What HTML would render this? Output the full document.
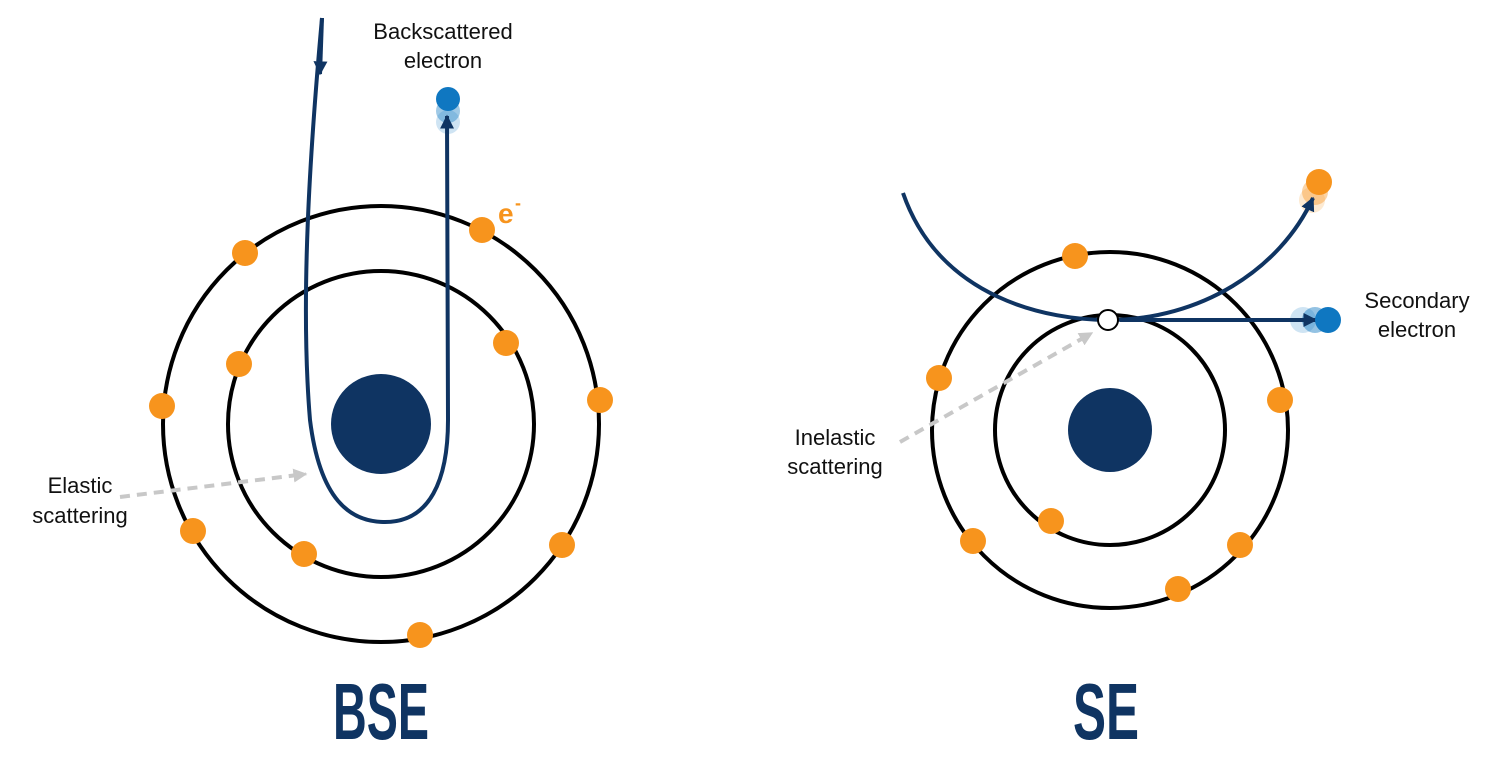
<!DOCTYPE html>
<html><head><meta charset="utf-8"><style>
html,body{margin:0;padding:0;background:#fff;width:1500px;height:766px;overflow:hidden}
text{font-family:"Liberation Sans",sans-serif}
</style></head><body>
<svg width="1500" height="766" viewBox="0 0 1500 766" xmlns="http://www.w3.org/2000/svg">
<defs>
<marker id="ah" viewBox="0 0 10 10" refX="9" refY="5" markerWidth="3.5" markerHeight="3.5" orient="auto" markerUnits="strokeWidth"><path d="M0,0 L10,5 L0,10 z" fill="#0f3462"/></marker>
<marker id="gh" viewBox="0 0 10 10" refX="9" refY="5" markerWidth="3.5" markerHeight="3.5" orient="auto" markerUnits="strokeWidth"><path d="M0,0 L10,5 L0,10 z" fill="#c8c8c8"/></marker>
</defs>
<g fill="none" stroke="#000" stroke-width="4">
<circle cx="381" cy="424" r="218"/>
<circle cx="381" cy="424" r="153"/>
<circle cx="1110" cy="430" r="178"/>
<circle cx="1110" cy="430" r="115"/>
</g>
<circle cx="381" cy="424" r="50" fill="#0f3462"/>
<circle cx="1110" cy="430" r="42" fill="#0f3462"/>
<circle cx="448" cy="122" r="12" fill="#0f77c1" opacity="0.2"/>
<circle cx="448" cy="111" r="12" fill="#0f77c1" opacity="0.4"/>
<circle cx="448" cy="99" r="12" fill="#0f77c1"/>
<path d="M322,18 C310,150 300,300 310,420 C320,500 350,522 385,522 C430,522 448,480 448,420 L447,116" fill="none" stroke="#0f3462" stroke-width="4" marker-end="url(#ah)"/>
<path d="M322,18 L320,74" fill="none" stroke="#0f3462" stroke-width="4" marker-end="url(#ah)"/>
<circle cx="1303" cy="320" r="13" fill="#0f77c1" opacity="0.2"/>
<circle cx="1315" cy="320" r="13" fill="#0f77c1" opacity="0.45"/>
<circle cx="1312" cy="200" r="13" fill="#f7941d" opacity="0.2"/>
<circle cx="1315" cy="192" r="13" fill="#f7941d" opacity="0.4"/>
<circle cx="1319" cy="182" r="13" fill="#f7941d"/>
<path d="M903,193 C940,300 1050,320 1108,320 C1200,320 1280,270 1313,198" fill="none" stroke="#0f3462" stroke-width="4" marker-end="url(#ah)"/>
<path d="M1120,320 L1316,320" fill="none" stroke="#0f3462" stroke-width="4" marker-end="url(#ah)"/>
<circle cx="1328" cy="320" r="13" fill="#0f77c1"/>
<circle cx="1108" cy="320" r="10" fill="#fff" stroke="#000" stroke-width="2"/>
<g fill="#f7941d">
<circle cx="245" cy="253" r="13"/><circle cx="482" cy="230" r="13"/><circle cx="162" cy="406" r="13"/>
<circle cx="600" cy="400" r="13"/><circle cx="193" cy="531" r="13"/><circle cx="562" cy="545" r="13"/>
<circle cx="420" cy="635" r="13"/><circle cx="239" cy="364" r="13"/><circle cx="506" cy="343" r="13"/>
<circle cx="304" cy="554" r="13"/>
<circle cx="1075" cy="256" r="13"/><circle cx="939" cy="378" r="13"/><circle cx="1280" cy="400" r="13"/>
<circle cx="973" cy="541" r="13"/><circle cx="1240" cy="545" r="13"/><circle cx="1178" cy="589" r="13"/>
<circle cx="1051" cy="521" r="13"/>
</g>
<path d="M120,497 L306,474" stroke="#c8c8c8" stroke-width="4" stroke-dasharray="10,7" fill="none" marker-end="url(#gh)"/>
<path d="M900,442 L1092,333" stroke="#c8c8c8" stroke-width="4" stroke-dasharray="10,7" fill="none" marker-end="url(#gh)"/>
<g font-size="22" fill="#111">
<text x="443" y="39" text-anchor="middle">Backscattered</text>
<text x="443" y="68" text-anchor="middle">electron</text>
<text x="80" y="493" text-anchor="middle">Elastic</text>
<text x="80" y="523" text-anchor="middle">scattering</text>
<text x="835" y="445" text-anchor="middle">Inelastic</text>
<text x="835" y="474" text-anchor="middle">scattering</text>
<text x="1417" y="308" text-anchor="middle">Secondary</text>
<text x="1417" y="337" text-anchor="middle">electron</text>
</g>
<text x="498" y="223" font-size="28" font-weight="bold" fill="#f7941d">e</text>
<text x="515" y="209" font-size="18" font-weight="bold" fill="#f7941d">-</text>
<text x="333" y="739" font-size="80" font-weight="bold" fill="#0f3462" textLength="96" lengthAdjust="spacingAndGlyphs">BSE</text>
<text x="1073" y="739" font-size="80" font-weight="bold" fill="#0f3462" textLength="66" lengthAdjust="spacingAndGlyphs">SE</text>
</svg>
</body></html>
